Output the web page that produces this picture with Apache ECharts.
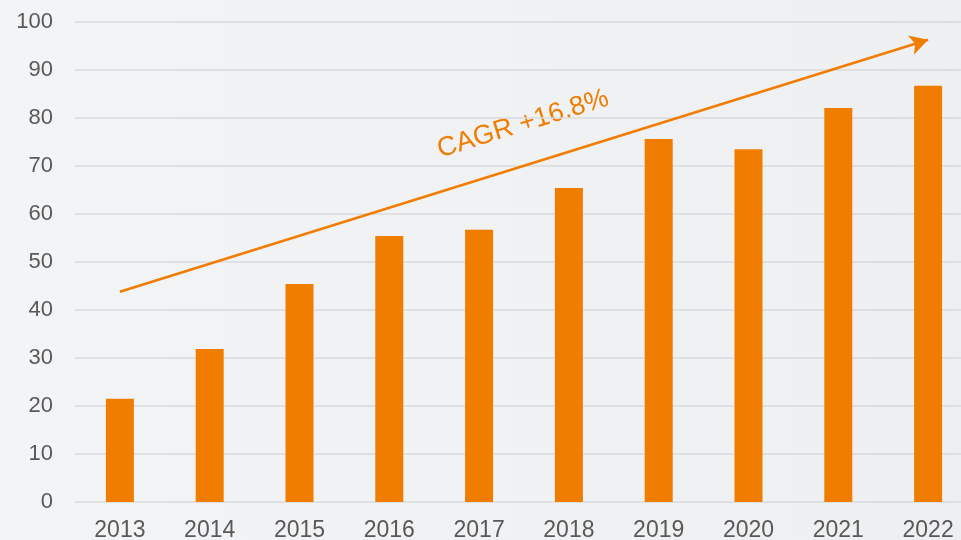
<!DOCTYPE html>
<html>
<head>
  <meta charset="utf-8">
  <title>CAGR</title>
  <script src="https://cdn.jsdelivr.net/npm/echarts@6/dist/echarts.min.js"></script>
  <style>
    html, body { margin: 0; padding: 0; }
    #chart { width: 961px; height: 540px; background: linear-gradient(90deg, #f3f4f6, #eeeff1); }
  </style>
</head>
<body>
  <div id="chart"></div>
  <script type="application/javascript">
      var years = ['2013', '2014', '2015', '2016', '2017', '2018', '2019', '2020', '2021', '2022'];
      var values = [21.5, 31.9, 45.4, 55.4, 56.7, 65.4, 75.6, 73.5, 82.1, 86.7];
      var trendStart = ['2013', 43.8];
      var trendEnd = ['2022', 96.3];
      var trendText = 'CAGR +16.8%';

      var orange = '#f07d00';
      var myChart = echarts.init(document.getElementById('chart'));
      myChart.setOption({
          animation: false,
          grid: {
              left: 75,
              width: 898,
              top: 22,
              bottom: 38,
              containLabel: false,
              outerBoundsMode: 'none'
          },
          xAxis: {
              type: 'category',
              data: years,
              axisLine: { show: false },
              axisTick: { show: false },
              axisLabel: { color: '#595959', fontSize: 23, margin: 17, fontFamily: 'Liberation Sans' }
          },
          yAxis: {
              type: 'value',
              min: 0,
              max: 100,
              interval: 10,
              axisLabel: { color: '#595959', fontSize: 22, margin: 22, fontFamily: 'Liberation Sans' },
              splitLine: { lineStyle: { color: '#d9dadc', width: 1.5 } }
          },
          series: [
              {
                  type: 'bar',
                  data: values,
                  barWidth: 28,
                  itemStyle: { color: orange },
                  markLine: {
                      silent: true,
                      symbol: ['none', 'arrow'],
                      symbolSize: [15, 18],
                      label: { show: false },
                      lineStyle: { color: orange, width: 2.5, type: 'solid' },
                      data: [[
                          { coord: trendStart },
                          { coord: trendEnd }
                      ]]
                  }
              }
          ],
          graphic: [
              {
                  type: 'text',
                  x: 523,
                  y: 124,
                  rotation: 0.3,
                  style: {
                      text: trendText,
                      fill: orange,
                      fontSize: 27,
                      fontFamily: 'Liberation Sans',
                      align: 'center',
                      verticalAlign: 'middle'
                  }
              }
          ]
      });
  </script>
</body>
</html>
